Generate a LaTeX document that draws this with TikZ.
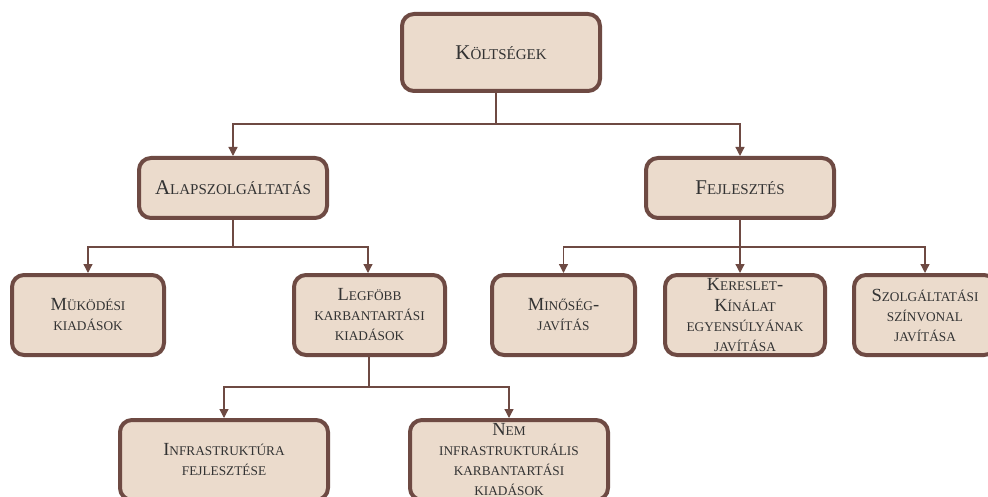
\documentclass[tikz,border=0pt]{standalone}
\usepackage{fontspec}
\setmainfont{Liberation Serif}
\usetikzlibrary{arrows.meta}
\definecolor{edge}{HTML}{6E4A43}
\definecolor{boxfill}{HTML}{EBDBCC}
\definecolor{ink}{HTML}{333333}
% fake small capitals: the small part of each word, sized per box level
\newcommand\smsz{15}
\newcommand\sm[1]{{\fontsize{\smsz}{20}\selectfont #1}}
\tikzset{
  box/.style={draw=edge, line width=4pt, fill=boxfill, rounded corners=12pt,
    align=center, text=ink, inner sep=0pt,
    font=\renewcommand\smsz{15}\fontsize{21}{20}\selectfont},
  subbox/.style={box,
    font=\renewcommand\smsz{13.3}\fontsize{18.5}{20}\selectfont},
  link/.style={draw=edge, line width=1.3pt},
  arr/.style={link, -{Triangle[length=9pt,width=9pt]}}
}
\begin{document}
\begin{tikzpicture}[x=1pt,y=-1pt]
\clip (0,0) rectangle (988,497);
\fill[white] (0,0) rectangle (988,497);

\node[box, minimum width=198pt, minimum height=77pt] (kolt) at (501,52.5) {K\sm{ÖLTSÉGEK}};

\node[box, minimum width=188pt, minimum height=60pt] (alap) at (233,188) {A\sm{LAPSZOLGÁLTATÁS}};
\node[box, minimum width=188pt, minimum height=60pt] (fejl) at (740,188) {F\sm{EJLESZTÉS}};

\node[subbox, minimum width=152pt, minimum height=80pt] (muk) at (88,315) {M\sm{ÜKÖDÉSI}\\\sm{KIADÁSOK}};
\node[subbox, minimum width=151pt, minimum height=80pt] (legf) at (369.5,315) {L\sm{EGFÖBB}\\\sm{KARBANTARTÁSI}\\\sm{KIADÁSOK}};

\node[subbox, minimum width=143pt, minimum height=80pt] (minj) at (563.5,315) {M\sm{INŐSÉG}-\\\sm{JAVÍTÁS}};
\node[subbox, minimum width=160pt, minimum height=80pt] (ker) at (745,315) {K\sm{ERESLET}-\\[1pt]K\sm{ÍNÁLAT}\\\sm{EGYENSÚLYÁNAK}\\\sm{JAVÍTÁSA}};
\node[subbox, minimum width=142pt, minimum height=80pt] (szolg) at (925,315) {S\sm{ZOLGÁLTATÁSI}\\\sm{SZÍNVONAL}\\\sm{JAVÍTÁSA}};

\node[subbox, minimum width=208pt, minimum height=80pt] (infra) at (224,460) {I\sm{NFRASTRUKTÚRA}\\\sm{FEJLESZTÉSE}};
\node[subbox, minimum width=198pt, minimum height=80pt] (nem) at (509,460) {N\sm{EM}\\\sm{INFRASTRUKTURÁLIS}\\\sm{KARBANTARTÁSI}\\\sm{KIADÁSOK}};

% junction points of the tree
\coordinate (j1) at (496,124);
\coordinate (j2) at (233,247);
\coordinate (j3) at (740,247);
\coordinate (j4) at (369,387);

\draw[link] (kolt.south -| j1) -- (j1);
\draw[arr] (j1) -| (alap.north);
\draw[arr] (j1) -| (fejl.north);

\draw[link] (alap.south) -- (j2);
\draw[arr] (j2) -| (muk.north);
\draw[arr] (j2) -| ([xshift=-1.5pt]legf.north);

\draw[link] (fejl.south) -- (j3);
\draw[arr] (j3) -| (minj.north);
\draw[arr] (j3) -- (j3 |- ker.north);
\draw[arr] (j3) -| (szolg.north);

\draw[link] (legf.south -| j4) -- (j4);
\draw[arr] (j4) -| (infra.north);
\draw[arr] (j4) -| (nem.north);
\end{tikzpicture}
\end{document}
